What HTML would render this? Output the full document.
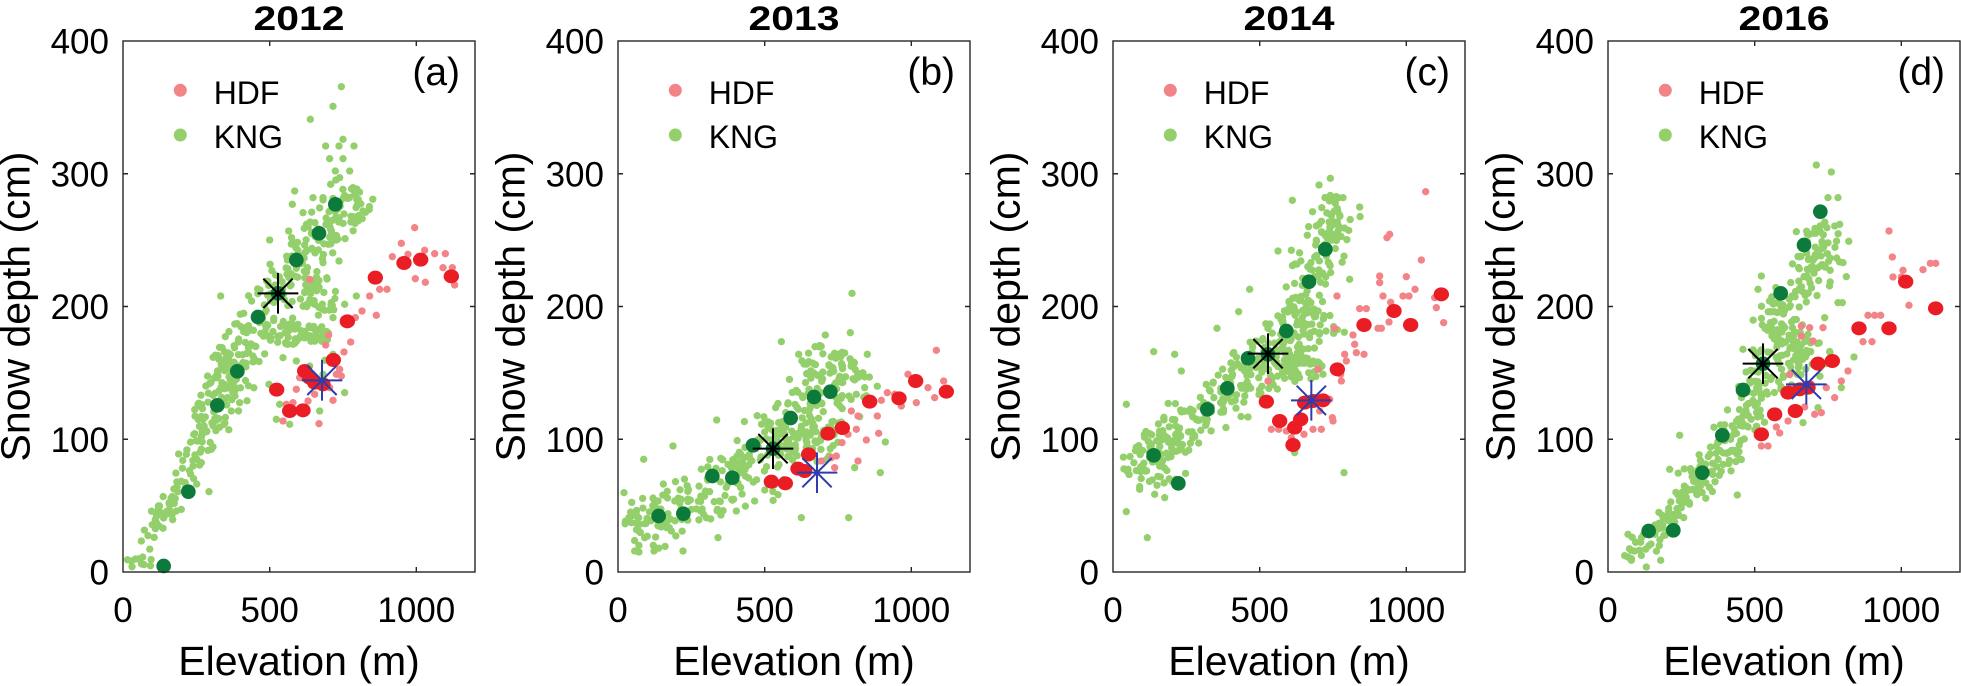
<!DOCTYPE html>
<html><head><meta charset="utf-8">
<style>
html,body{margin:0;padding:0;background:#fff;}
svg{display:block;}
text{font-family:"Liberation Sans",Arial,sans-serif;fill:#000;}
.tk{font-size:35px;}
.lb{font-size:41px;}
.lg{font-size:32px;}
.pl{font-size:39px;}
.tt{font-size:34px;font-weight:bold;}
</style></head><body>
<svg id="s" width="1961" height="686" viewBox="0 0 1961 686" xmlns="http://www.w3.org/2000/svg">
<rect width="1961" height="686" fill="#fff"/>
<g id="d0" transform="translate(123,41) scale(0.333333)"></g>
<g id="d1" transform="translate(618,41) scale(0.333333)"></g>
<g id="d2" transform="translate(1113,41) scale(0.333333)"></g>
<g id="d3" transform="translate(1608,41) scale(0.333333)"></g>

<g fill="none" stroke="#262626" stroke-width="1.4">
<rect x="123" y="41" width="352" height="531"/>
<rect x="618" y="41" width="352" height="531"/>
<rect x="1113" y="41" width="352" height="531"/>
<rect x="1608" y="41" width="352" height="531"/>
<path d="M269.7 572v-5M416.3 572v-5M269.7 41v5M416.3 41v5M123 439.25h5M123 306.5h5M123 173.75h5M475 439.25h-5M475 306.5h-5M475 173.75h-5"/>
<path d="M764.7 572v-5M911.3 572v-5M764.7 41v5M911.3 41v5M618 439.25h5M618 306.5h5M618 173.75h5M970 439.25h-5M970 306.5h-5M970 173.75h-5"/>
<path d="M1259.7 572v-5M1406.3 572v-5M1259.7 41v5M1406.3 41v5M1113 439.25h5M1113 306.5h5M1113 173.75h5M1465 439.25h-5M1465 306.5h-5M1465 173.75h-5"/>
<path d="M1754.7 572v-5M1901.3 572v-5M1754.7 41v5M1901.3 41v5M1608 439.25h5M1608 306.5h5M1608 173.75h5M1960 439.25h-5M1960 306.5h-5M1960 173.75h-5"/>
</g>

<text class="tt" x="299" y="30" text-anchor="middle" textLength="91" lengthAdjust="spacingAndGlyphs">2012</text>
<g class="tk" text-anchor="end">
<text x="109" y="584.5">0</text><text x="109" y="451.75">100</text><text x="109" y="319">200</text><text x="109" y="186.25">300</text><text x="109" y="53.5">400</text>
</g>
<g class="tk" text-anchor="middle">
<text x="123" y="622">0</text><text x="269.7" y="622">500</text><text x="416.3" y="622">1000</text>
</g>
<text class="lb" x="299" y="675" text-anchor="middle">Elevation (m)</text>
<text class="lb" transform="translate(29.4,306.5) rotate(-90)" text-anchor="middle">Snow depth (cm)</text>
<text class="pl" x="460" y="85" text-anchor="end">(a)</text>
<text class="lg" x="213.7" y="104">HDF</text>
<text class="lg" x="213.7" y="148">KNG</text>

<text class="tt" x="794" y="30" text-anchor="middle" textLength="91" lengthAdjust="spacingAndGlyphs">2013</text>
<g class="tk" text-anchor="end">
<text x="604" y="584.5">0</text><text x="604" y="451.75">100</text><text x="604" y="319">200</text><text x="604" y="186.25">300</text><text x="604" y="53.5">400</text>
</g>
<g class="tk" text-anchor="middle">
<text x="618" y="622">0</text><text x="764.7" y="622">500</text><text x="911.3" y="622">1000</text>
</g>
<text class="lb" x="794" y="675" text-anchor="middle">Elevation (m)</text>
<text class="lb" transform="translate(524.4,306.5) rotate(-90)" text-anchor="middle">Snow depth (cm)</text>
<text class="pl" x="955" y="85" text-anchor="end">(b)</text>
<text class="lg" x="708.7" y="104">HDF</text>
<text class="lg" x="708.7" y="148">KNG</text>

<text class="tt" x="1289" y="30" text-anchor="middle" textLength="91" lengthAdjust="spacingAndGlyphs">2014</text>
<g class="tk" text-anchor="end">
<text x="1099" y="584.5">0</text><text x="1099" y="451.75">100</text><text x="1099" y="319">200</text><text x="1099" y="186.25">300</text><text x="1099" y="53.5">400</text>
</g>
<g class="tk" text-anchor="middle">
<text x="1113" y="622">0</text><text x="1259.7" y="622">500</text><text x="1406.3" y="622">1000</text>
</g>
<text class="lb" x="1289" y="675" text-anchor="middle">Elevation (m)</text>
<text class="lb" transform="translate(1019.4,306.5) rotate(-90)" text-anchor="middle">Snow depth (cm)</text>
<text class="pl" x="1450" y="85" text-anchor="end">(c)</text>
<text class="lg" x="1203.7" y="104">HDF</text>
<text class="lg" x="1203.7" y="148">KNG</text>

<text class="tt" x="1784" y="30" text-anchor="middle" textLength="91" lengthAdjust="spacingAndGlyphs">2016</text>
<g class="tk" text-anchor="end">
<text x="1594" y="584.5">0</text><text x="1594" y="451.75">100</text><text x="1594" y="319">200</text><text x="1594" y="186.25">300</text><text x="1594" y="53.5">400</text>
</g>
<g class="tk" text-anchor="middle">
<text x="1608" y="622">0</text><text x="1754.7" y="622">500</text><text x="1901.3" y="622">1000</text>
</g>
<text class="lb" x="1784" y="675" text-anchor="middle">Elevation (m)</text>
<text class="lb" transform="translate(1514.4,306.5) rotate(-90)" text-anchor="middle">Snow depth (cm)</text>
<text class="pl" x="1945" y="85" text-anchor="end">(d)</text>
<text class="lg" x="1698.7" y="104">HDF</text>
<text class="lg" x="1698.7" y="148">KNG</text>

<g>
<circle cx="180.3" cy="90.3" r="6.5" fill="#F28387"/><circle cx="180.3" cy="135" r="6.5" fill="#93CF6B"/>
<circle cx="675.3" cy="90.3" r="6.5" fill="#F28387"/><circle cx="675.3" cy="135" r="6.5" fill="#93CF6B"/>
<circle cx="1170.3" cy="90.3" r="6.5" fill="#F28387"/><circle cx="1170.3" cy="135" r="6.5" fill="#93CF6B"/>
<circle cx="1665.3" cy="90.3" r="6.5" fill="#F28387"/><circle cx="1665.3" cy="135" r="6.5" fill="#93CF6B"/>
</g>
</svg>
<script>
(function(){
var NS="http://www.w3.org/2000/svg";
function mk(tag,attrs,parent){var e=document.createElementNS(NS,tag);for(var k in attrs)e.setAttribute(k,attrs[k]);parent.appendChild(e);return e;}
function rng(a){return function(){a|=0;a=a+0x6D2B79F5|0;var t=Math.imul(a^a>>>15,1|a);t=t+Math.imul(t^t>>>7,61|t)^t;return((t^t>>>14)>>>0)/4294967296;};}
var P=[
{
bands:[[30,1590,250,1180,40,80],[250,1180,420,820,65,120],[420,820,700,440,70,160]],
blobs:[[520,880,110,32,60],[590,770,55,65,35],[300,1020,50,90,35]],
g:[[655,137],[630,196],[562,235],[660,295],[608,315],[648,315],[693,315],[620,353],[660,353],[637,390],[680,390],[650,410],[623,430],[690,440],[700,452],[515,450],[570,470],[600,470],[508,490],[540,515],[720,510],[293,765],[440,597],[497,570],[648,660],[600,665],[700,765],[665,790],[630,830],[575,790],[438,1030],[350,1085],[325,1110],[500,1150],[590,1110],[665,1055],[460,1135],[470,1090],[605,958],[630,940],[600,1000],[25,1560],[55,1500],[100,1445],[130,1420],[160,1410],[190,1240],[210,1275],[235,1265],[265,1225],[258,1352],[480,950],[520,960],[560,975]],
pink:[[875,560],[835,607],[808,647],[855,640],[905,628],[935,638],[967,638],[960,680],[988,680],[995,732],[877,713],[907,724],[770,745],[792,745],[740,765],[717,810],[697,830],[760,823],[617,882],[683,903],[608,912],[663,933],[650,985],[655,1005],[520,1045],[510,1085],[490,1090],[555,1080],[630,1078],[588,1148],[480,1140],[560,715],[620,1040],[640,1000],[530,1010],[575,1060]],
dark:[[637,490],[588,577],[520,657],[465,757],[405,828],[343,991],[283,1093],[196,1352],[122,1575]],
red:[[757,710],[843,666],[893,656],[985,706],[673,841],[631,957],[545,990],[575,1025],[600,1030],[560,1010],[461,1046],[500,1110],[540,1108]],
bk:[465,757],bl:[597,1018]},
{
bands:[[30,1470,400,1280,85,140],[380,1300,700,950,105,200]],
blobs:[[560,1200,100,80,45]],
g:[[702,757],[490,902],[622,882],[697,875],[542,940],[605,918],[748,940],[572,962],[296,1137],[165,1215],[77,1255],[18,1355],[40,1445],[65,1450],[50,1530],[108,1530],[195,1530],[80,1490],[300,1490],[355,1410],[410,1380],[550,1430],[692,1430],[787,1295],[802,1203],[710,1280],[715,1060],[740,1040],[120,1380],[160,1470]],
pink:[[955,928],[977,1020],[950,1070],[895,1085],[850,1095],[808,1055],[790,1078],[778,1125],[782,1177],[745,1197],[700,1110],[720,1125],[715,1165],[655,1245],[672,1205],[720,1260],[640,1250],[870,1000],[930,1040],[830,1060],[690,1180],[610,1260],[650,1280]],
dark:[[122,1425],[196,1418],[283,1305],[343,1310],[405,1213],[465,1223],[518,1131],[588,1068],[637,1052]],
red:[[460,1322],[502,1327],[540,1283],[560,1290],[572,1240],[630,1178],[673,1161],[755,1082],[843,1072],[893,1020],[985,1052]],
bk:[465,1223],bl:[597,1295]},
{
bands:[[50,1300,250,1120,70,85],[250,1120,470,960,75,110],[470,960,620,800,85,110],[560,820,680,470,70,110]],
blobs:[[560,980,75,45,45],[150,1250,85,85,35]],
g:[[40,1412],[103,1490],[122,932],[185,940],[693,1295],[545,1235],[205,990],[312,862],[377,812],[410,745],[538,478],[740,498],[690,470],[618,432],[652,412],[405,1128],[40,1090],[45,1285],[80,1345],[125,1360],[155,1370],[630,1000],[495,630],[535,628],[710,715]],
pink:[[938,452],[830,580],[822,590],[925,657],[800,705],[880,707],[800,725],[672,765],[906,745],[810,765],[870,765],[888,765],[965,770],[970,800],[992,845],[740,803],[760,803],[833,784],[828,843],[795,862],[805,862],[665,862],[720,882],[725,910],[695,940],[730,935],[753,940],[700,960],[683,1000],[685,1020],[615,985],[650,1075],[658,1130],[660,1140],[625,1165],[600,1165],[573,1180],[570,1130],[475,1165],[520,1170],[497,1165],[535,1190],[620,1110],[465,1020]],
dark:[[122,1243],[196,1327],[283,1105],[343,1042],[405,952],[465,940],[520,870],[588,722],[637,625]],
red:[[460,1082],[500,1140],[545,1160],[563,1135],[540,1212],[575,1085],[600,1080],[630,1078],[673,985],[753,852],[843,810],[893,852],[985,760]],
bk:[465,938],bl:[595,1078]},
{
bands:[[60,1550,240,1370,42,70],[240,1370,420,1120,55,95],[420,1120,560,860,65,95],[480,880,680,560,65,120]],
blobs:[[610,960,70,60,35]],
g:[[625,372],[670,393],[660,470],[690,470],[565,572],[695,550],[705,665],[715,707],[460,705],[450,745],[405,925],[215,1183],[185,1285],[388,1362],[60,1480],[70,1558],[115,1578],[158,1558],[600,880],[650,830],[690,785],[703,785],[738,948],[700,1040],[630,1100],[585,1145],[520,800]],
pink:[[843,570],[853,648],[885,688],[945,686],[967,667],[983,667],[855,708],[880,708],[903,793],[780,823],[800,823],[818,823],[765,902],[792,902],[580,855],[605,860],[645,860],[615,900],[580,885],[700,1020],[720,990],[655,1040],[680,1070],[640,1115],[620,1120],[590,1098],[515,1176],[460,1215],[480,1215],[505,1158],[540,1140],[545,1000],[610,1030]],
dark:[[122,1470],[196,1468],[283,1295],[343,1183],[405,1047],[465,968],[518,757],[588,612],[637,512]],
red:[[460,1180],[500,1120],[562,1110],[540,1055],[575,1045],[600,1040],[630,968],[673,960],[753,862],[843,862],[893,722],[983,802]],
bk:[465,968],bl:[595,1030]}
];
function star(g,c,col){
 var x=c[0],y=c[1];
 mk('path',{d:'M'+(x-61)+' '+y+'h122M'+x+' '+(y-61)+'v122M'+(x-44)+' '+(y-44)+'l88 88M'+(x-44)+' '+(y+44)+'l88 -88',stroke:col,'stroke-width':6,fill:'none'},g);
}
P.forEach(function(p,i){
 var r=rng(1234+i*77);
 var g=document.getElementById('d'+i);
 var pts=[];
 p.bands.forEach(function(b){var dx=b[2]-b[0],dy=b[3]-b[1],len=Math.sqrt(dx*dx+dy*dy),nx=-dy/len,ny=dx/len;for(var k=0;k<b[5];k++){var t=r();var o=(r()+r()-1)*b[4]*1.25;var a=(r()-0.5)*20;pts.push([b[0]+dx*t+nx*o+a,b[1]+dy*t+ny*o]);}});
 p.blobs.forEach(function(b){for(var k=0;k<b[4];k++){var a=r()*6.2832,rr=Math.sqrt(r());pts.push([b[0]+Math.cos(a)*rr*b[2],b[1]+Math.sin(a)*rr*b[3]]);}});
 p.g.forEach(function(q){pts.push(q);});
 pts.forEach(function(q){if(q[0]<6||q[0]>1050||q[1]>1590||q[1]<5)return;mk('circle',{cx:q[0].toFixed(1),cy:q[1].toFixed(1),r:11,fill:'#93CF6B'},g);});
 p.pink.forEach(function(q){mk('circle',{cx:q[0],cy:q[1],r:11,fill:'#F28387'},g);});
 p.dark.forEach(function(q){mk('circle',{cx:q[0],cy:q[1],r:22,fill:'#0B7A3A'},g);});
 p.red.forEach(function(q){mk('ellipse',{cx:q[0],cy:q[1],rx:23,ry:21,fill:'#EA1C24'},g);});
 star(g,p.bk,'#000');
 star(g,p.bl,'#2E3DAA');
});
})();
</script>
</body></html>
